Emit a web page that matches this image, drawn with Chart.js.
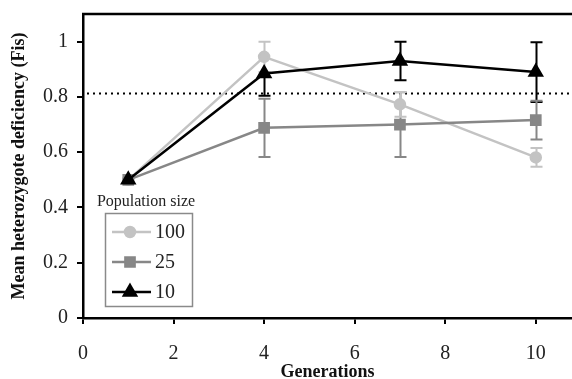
<!DOCTYPE html>
<html>
<head>
<meta charset="utf-8">
<script src="https://cdn.jsdelivr.net/npm/chart.js@4.4.0/dist/chart.umd.min.js"></script>
<style>
html,body{margin:0;padding:0;background:#fff;}
#wrap{width:572px;height:379px;position:relative;}
</style>
</head>
<body>
<div id="wrap"><canvas id="c" width="572" height="379"></canvas></div>
<script>
const generations = [1, 4, 7, 10];
const pop100 = [0.50, 0.945, 0.773, 0.581];
const err100Up = [0, 0.055, 0.045, 0.034];
const err100Down = [0, 0.055, 0.045, 0.034];
const pop25 = [0.50, 0.688, 0.700, 0.716];
const err25Up = [0, 0.105, 0.117, 0.07];
const err25Down = [0, 0.105, 0.117, 0.07];
const pop10 = [0.50, 0.885, 0.930, 0.890];
const err10Up = [0, 0, 0.07, 0.108];
const err10Down = [0, 0.081, 0.07, 0.108];
const refLine = 0.815;
const xTicks = [0, 2, 4, 6, 8, 10];
const yTicks = [0, 0.2, 0.4, 0.6, 0.8, 1];
const legendTitle = 'Population size';
const seriesLabels = ['100', '25', '10'];

const SERIF = '"Liberation Serif", "DejaVu Serif", serif';

function mk(label, vals, up, down, color, style, radius, order) {
  return {
    label: label,
    data: generations.map((g, i) => ({x: g, y: vals[i]})),
    errUp: up,
    errDown: down,
    borderColor: color,
    backgroundColor: color,
    pointBackgroundColor: color,
    pointBorderColor: color,
    pointStyle: style,
    pointRadius: radius,
    borderWidth: 2.5,
    tension: 0,
    order: order
  };
}

const datasets = [
  mk(seriesLabels[0], pop100, err100Up, err100Down, '#c3c3c3', 'circle', 5, 2),
  mk(seriesLabels[1], pop25, err25Up, err25Down, '#878787', 'rect', 6.5, 1),
  mk(seriesLabels[2], pop10, err10Up, err10Down, '#000000', 'triangle', 7, 0)
];

const extras = {
  id: 'extras',
  beforeDatasetsDraw(chart) {
    const ctx = chart.ctx, x = chart.scales.x, y = chart.scales.y, a = chart.chartArea;
    ctx.save();
    // dotted reference line
    ctx.strokeStyle = '#000';
    ctx.lineWidth = 2;
    ctx.setLineDash([2, 4]);
    ctx.beginPath();
    const yr = Math.round(y.getPixelForValue(refLine)) + 0.5;
    ctx.moveTo(a.left + 4, yr);
    ctx.lineTo(a.right, yr);
    ctx.stroke();
    ctx.setLineDash([]);
    // error bars: black first, light grey last
    const dsList = chart.data.datasets.slice().reverse();
    dsList.forEach(ds => {
      ctx.strokeStyle = ds.borderColor;
      ctx.lineWidth = 2;
      ds.data.forEach((p, i) => {
        const px = Math.round(x.getPixelForValue(p.x)) + 0.5;
        const pc = y.getPixelForValue(p.y);
        const eu = ds.errUp[i], ed = ds.errDown[i];
        ctx.beginPath();
        if (eu) {
          const y1 = y.getPixelForValue(p.y + eu);
          ctx.moveTo(px, pc); ctx.lineTo(px, y1);
          ctx.moveTo(px - 6, y1); ctx.lineTo(px + 6, y1);
        }
        if (ed) {
          const y0 = y.getPixelForValue(p.y - ed);
          ctx.moveTo(px, pc); ctx.lineTo(px, y0);
          ctx.moveTo(px - 6, y0); ctx.lineTo(px + 6, y0);
        }
        ctx.stroke();
      });
    });
    ctx.restore();
  },
  afterDraw(chart) {
    const ctx = chart.ctx, a = chart.chartArea;
    ctx.save();
    // top border
    ctx.strokeStyle = '#000';
    ctx.lineWidth = 2.5;
    ctx.beginPath();
    ctx.moveTo(a.left - 1, a.top);
    ctx.lineTo(a.right, a.top);
    ctx.stroke();
    // legend
    const bx = 105, by = 213, bw = 87, bh = 93;
    ctx.fillStyle = '#fff';
    ctx.fillRect(bx, by, bw, bh);
    ctx.strokeStyle = '#8a8a8a';
    ctx.lineWidth = 1.5;
    ctx.strokeRect(bx + 0.5, by + 0.5, bw, bh);
    ctx.fillStyle = '#222';
    ctx.font = '16px ' + SERIF;
    ctx.textAlign = 'center';
    ctx.textBaseline = 'middle';
    ctx.fillText(legendTitle, 146, 202);
    const rows = [232, 262, 292];
    chart.data.datasets.forEach((ds, i) => {
      const yy = rows[i];
      ctx.strokeStyle = ds.borderColor;
      ctx.lineWidth = 2.5;
      ctx.beginPath();
      ctx.moveTo(112, yy); ctx.lineTo(151, yy);
      ctx.stroke();
      Chart.helpers.drawPoint(ctx, {pointStyle: ds.pointStyle, radius: ds.pointRadius, borderWidth: 1, rotation: 0}, 130, yy);
      ctx.fillStyle = ds.borderColor;
      ctx.fill();
      ctx.fillStyle = '#222';
      ctx.font = '20px ' + SERIF;
      ctx.textAlign = 'left';
      ctx.fillText(ds.label, 155, yy + 1);
    });
    ctx.restore();
  }
};

new Chart(document.getElementById('c'), {
  type: 'line',
  data: {datasets: datasets},
  options: {
    responsive: false,
    animation: false,
    devicePixelRatio: 1,
    layout: {autoPadding: false, padding: {top: 14, right: 0, left: 0, bottom: 0}},
    plugins: {legend: {display: false}, tooltip: {enabled: false}},
    scales: {
      x: {
        type: 'linear', min: 0, max: 10.8,
        afterBuildTicks(s) { s.ticks = xTicks.map(v => ({value: v})); },
        afterFit(s) { s.height = 61; s.paddingLeft = 0; s.paddingRight = 0; },
        grid: {display: true, drawOnChartArea: false, drawTicks: true, tickLength: 6, color: '#000', lineWidth: 2},
        border: {display: true, color: '#000', width: 2.5},
        ticks: {color: '#222', font: {family: SERIF, size: 20}, padding: 18, maxRotation: 0},
        title: {display: true, text: 'Generations', color: '#111', font: {family: SERIF, size: 18, weight: 'bold', lineHeight: 1}, padding: {top: 0, bottom: -2}}
      },
      y: {
        type: 'linear', min: 0, max: 1.1,
        afterBuildTicks(s) { s.ticks = yTicks.map(v => ({value: v})); },
        afterFit(s) { s.width = 83; s.paddingTop = 0; s.paddingBottom = 0; },
        grid: {display: true, drawOnChartArea: false, drawTicks: true, tickLength: 6, color: '#000', lineWidth: 2},
        border: {display: true, color: '#000', width: 2.5},
        ticks: {color: '#222', font: {family: SERIF, size: 20}, padding: 9, callback: v => String(Math.round(v * 10) / 10)},
        title: {display: true, text: 'Mean heterozygote deficiency (Fis)', color: '#111', font: {family: SERIF, size: 18, weight: 'bold'}, padding: {top: 9, bottom: 0}}
      }
    }
  },
  plugins: [extras]
});
</script>
</body>
</html>
